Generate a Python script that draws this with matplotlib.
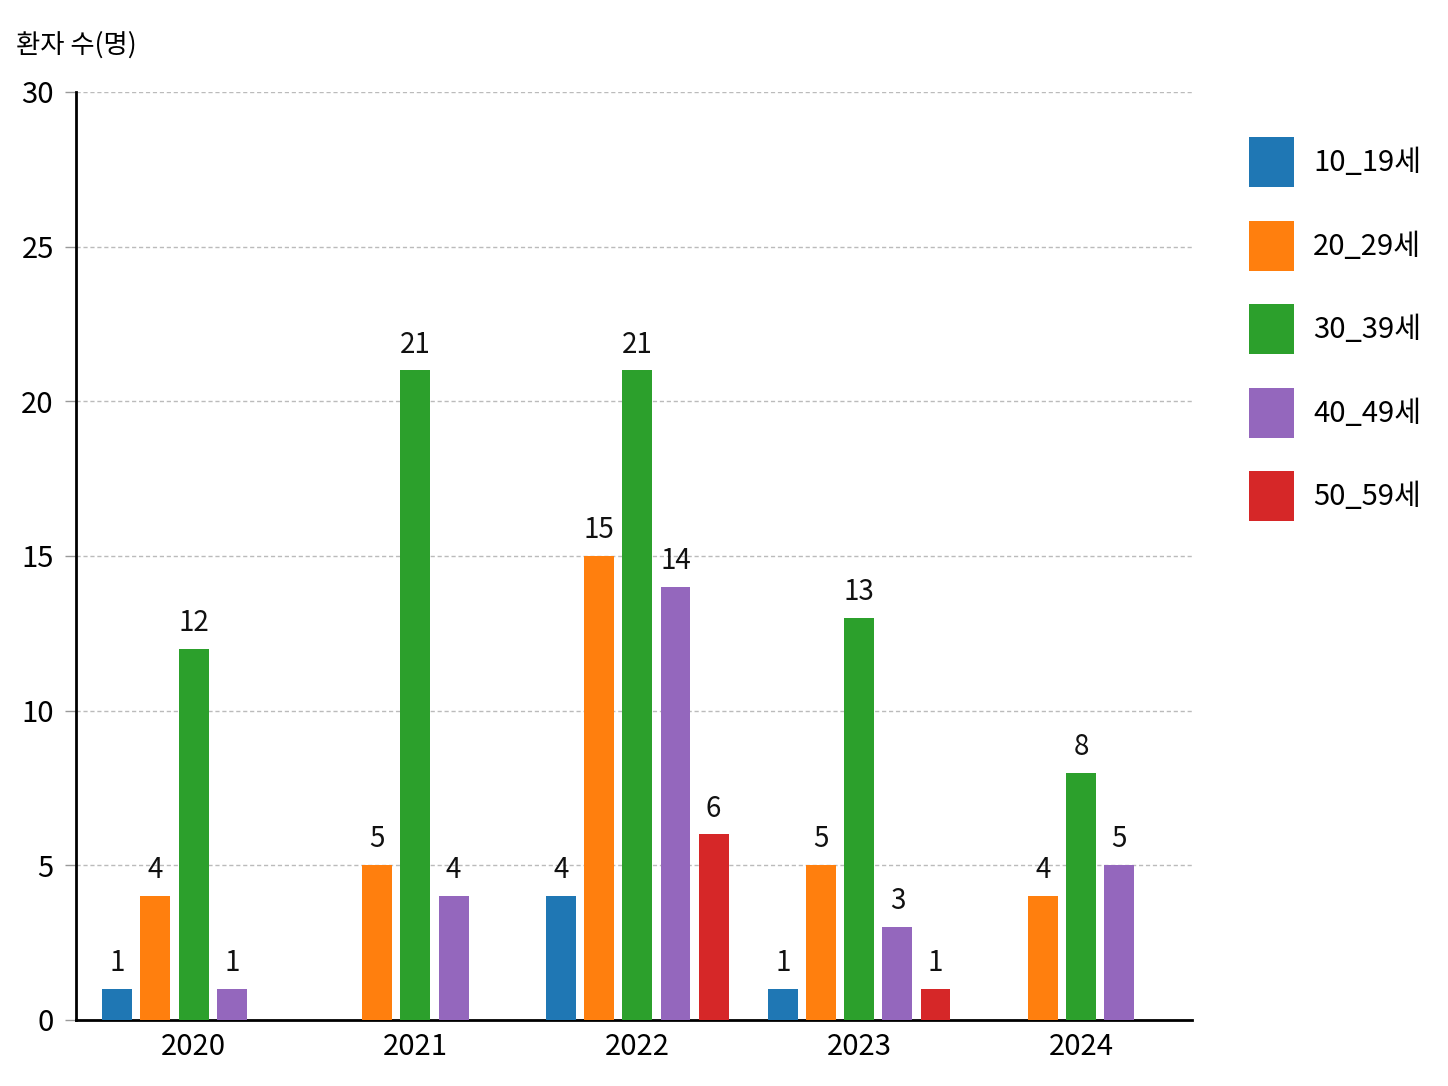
import matplotlib
matplotlib.use("Agg")
import matplotlib.pyplot as plt
from matplotlib.patches import Patch
import numpy as np

plt.rcParams['font.family'] = ['Noto Sans CJK KR', 'DejaVu Sans']

years = ["2020", "2021", "2022", "2023", "2024"]
series_names = ["10_19세", "20_29세", "30_39세", "40_49세", "50_59세"]
colors = ["#1f77b4", "#ff7f0e", "#2ca02c", "#9467bd", "#d62728"]
v10_19 = [1, 0, 4, 1, 0]
v20_29 = [4, 5, 15, 5, 4]
v30_39 = [12, 21, 21, 13, 8]
v40_49 = [1, 4, 14, 3, 5]
v50_59 = [0, 0, 6, 1, 0]
values = [v10_19, v20_29, v30_39, v40_49, v50_59]

fig = plt.figure(figsize=(14.48, 10.86), dpi=100)
ax = fig.add_axes([0.0525, 0.0608, 0.7707, 0.8545])

step = 0.172
width = 0.135
nser = len(series_names)
for si in range(nser):
    for yi, year in enumerate(years):
        v = values[si][yi]
        if v <= 0:
            continue
        x = yi + (si - (nser - 1) / 2) * step
        ax.bar(x, v, width=width, color=colors[si], zorder=3)
        ax.text(x, v + 0.35, str(v), ha='center', va='bottom', fontsize=20, color='#111111')

ax.set_xlim(-0.53, 4.5)
ax.set_ylim(0, 30)
ax.set_xticks(range(len(years)))
ax.set_xticklabels(years, fontsize=21)
ax.set_yticks([0, 5, 10, 15, 20, 25, 30])
ax.tick_params(axis='x', length=0, pad=9)
ax.tick_params(axis='y', length=8, width=1, color='#999999', labelsize=21, pad=8)
ax.grid(axis='y', linestyle=(0, (3, 2)), color='#bbbbbb', linewidth=1, zorder=0)
ax.set_axisbelow(True)
for s in ['top', 'right']:
    ax.spines[s].set_visible(False)
ax.spines['left'].set_linewidth(2)
ax.spines['bottom'].set_linewidth(2)

fig.text(16 / 1448, 1 - 45 / 1086, "환자 수(명)", fontsize=19, ha='left', va='center')

handles = [Patch(facecolor=c, edgecolor='none') for c in colors]
fig.legend(handles, series_names, loc='upper left', bbox_to_anchor=(1249 / 1448, 1 - 137 / 1086),
           frameon=False, fontsize=21, handlelength=1.55, handleheight=2.26,
           labelspacing=1.15, handletextpad=0.65, borderpad=0, borderaxespad=0)

fig.savefig("out.png", dpi=100, facecolor='white')
